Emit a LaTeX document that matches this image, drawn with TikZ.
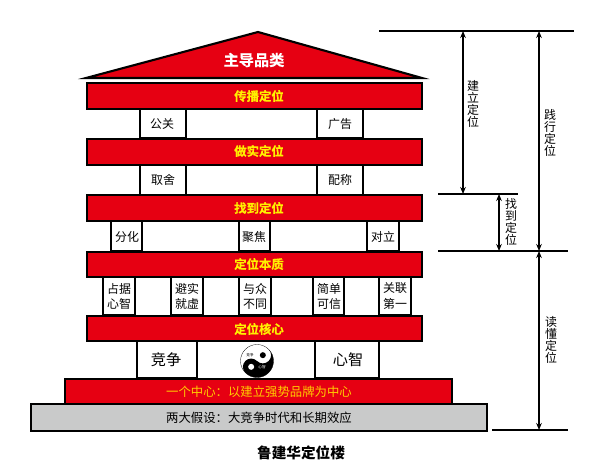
\documentclass[tikz,border=0pt]{standalone}
\usepackage{fontspec}
\setmainfont{Noto Sans CJK SC}
\newfontfamily\heavyfont[FakeBold=0.5]{Noto Sans CJK SC Bold}
\usetikzlibrary{arrows.meta}
\definecolor{barred}{RGB}{230,0,18}
\definecolor{bargold}{RGB}{255,240,0}
\definecolor{midgold}{RGB}{255,205,0}
\definecolor{basegrey}{RGB}{201,202,202}
\tikzset{
  redbar/.style={fill=barred,draw=black,line width=1.3pt},
  greybar/.style={fill=basegrey,draw=black,line width=1.3pt},
  pillar/.style={fill=white,draw=black,line width=1.1pt},
  roofline/.style={fill=barred,draw=black,line width=1.5pt,line join=miter},
  bartext/.style={font=\fontsize{8.8}{10}\selectfont\heavyfont,text=bargold,inner sep=0pt},
  pillartext/.style={font=\fontsize{8.5}{10.7}\selectfont,align=center,inner sep=0pt},
  sidetext/.style={font=\fontsize{8.5}{8.6}\selectfont,align=center,inner sep=0pt},
  levelline/.style={black,line width=0.75pt},
  spanarrow/.style={black,line width=0.75pt,{Stealth[length=5pt,width=4pt]}-{Stealth[length=5pt,width=4pt]}}
}
\begin{document}
\begin{tikzpicture}[x=0.025cm,y=-0.025cm]
\useasboundingbox (0,0) rectangle (609,472);
% roof
\draw[roofline] (258,32) -- (422,78) -- (86,78) -- cycle;
\node[font=\fontsize{10.8}{12}\selectfont\heavyfont,text=white,inner sep=0pt] (roof) at (254,60) {主导品类};
% floors
\draw[redbar] (87,83) rectangle (422,109);
\node[bartext] (spread) at (259,96) {传播定位};
\draw[pillar] (140,109) rectangle (186,138);
\node[pillartext] (pr) at (162,124) {公关};
\draw[pillar] (317,109) rectangle (363,138);
\node[pillartext] (ad) at (340,124) {广告};
\draw[redbar] (87,139) rectangle (422,165);
\node[bartext] (real) at (259,151) {做实定位};
\draw[pillar] (140,165) rectangle (186,195);
\node[pillartext] (trade) at (163,180) {取舍};
\draw[pillar] (317,165) rectangle (363,195);
\node[pillartext] (match) at (340,180) {配称};
\draw[redbar] (87,195) rectangle (422,221);
\node[bartext] (find) at (259,208) {找到定位};
\draw[pillar] (111,221) rectangle (142,251);
\node[pillartext] (split) at (127,237) {分化};
\draw[pillar] (239,221) rectangle (270,251);
\node[pillartext] (focus) at (254,237) {聚焦};
\draw[pillar] (367,221) rectangle (399,251);
\node[pillartext] (oppose) at (383,237) {对立};
\draw[redbar] (87,252) rectangle (422,277);
\node[bartext] (nature) at (259,264) {定位本质};
\draw[pillar] (103,277) rectangle (135,315);
\node[pillartext] (occupy) at (119,296) {占据\\心智};
\draw[pillar] (171,277) rectangle (203,315);
\node[pillartext] (avoid) at (187,296) {避实\\就虚};
\draw[pillar] (239,277) rectangle (271,315);
\node[pillartext] (differ) at (255,296) {与众\\不同};
\draw[pillar] (313,277) rectangle (344,315);
\node[pillartext] (simple) at (329,296) {简单\\可信};
\draw[pillar] (379,277) rectangle (411,315);
\node[pillartext] (first) at (395,296) {关联\\第一};
\draw[redbar] (87,316) rectangle (422,341);
\node[bartext] (core) at (259,329) {定位核心};
\draw[pillar] (137,341) rectangle (197,378);
\node[pillartext,font=\fontsize{10.8}{12}\selectfont] (compete) at (166,360) {竞争};
\draw[pillar] (315,341) rectangle (379,378);
\node[pillartext,font=\fontsize{10.8}{12}\selectfont] (mind) at (348,360) {心智};
% taiji
\begin{scope}[shift={(257,361)},rotate=-45,x=0.025cm,y=0.025cm]
\draw[fill=white,draw=black,very thin] (0,0) circle (16.5);
\fill[black] (0,16.5) arc (90:-90:16.5) arc (-90:-270:8.25) arc (-90:90:8.25) -- cycle;
\fill[black] (0,8.25) circle (3);
\fill[white] (0,-8.25) circle (3);
\end{scope}
\node[font=\fontsize{2.6}{3}\selectfont,inner sep=0pt] (taiwhite) at (250,355) {竞争};
\node[font=\fontsize{2.6}{3}\selectfont,text=white,inner sep=0pt] (taiblack) at (262,367) {心智};
% base
\draw[redbar] (65,379) rectangle (452,404);
\node[font=\fontsize{8.8}{10}\selectfont,text=midgold,inner sep=0pt] (center) at (259,392) {一个中心：以建立强势品牌为中心};
\draw[greybar] (31,404) rectangle (487,431);
\node[font=\fontsize{8.8}{10}\selectfont,inner sep=0pt] (assume) at (259,418) {两大假设：大竞争时代和长期效应};
\node[font=\fontsize{10.4}{12}\selectfont\bfseries,inner sep=0pt] (title) at (301,453) {鲁建华定位楼};
% levels
\coordinate (topl) at (379,31);
\coordinate (topr) at (574,31);
\coordinate (midl) at (438,194);
\coordinate (midr) at (518,194);
\coordinate (lowl) at (438,251);
\coordinate (lowr) at (568,251);
\coordinate (endl) at (492,430);
\coordinate (endr) at (568,430);
\draw[levelline] (topl) -- (topr);
\draw[levelline] (midl) -- (midr);
\draw[levelline] (lowl) -- (lowr);
\draw[levelline] (endl) -- (endr);
\coordinate (buildtop) at (463,31);
\coordinate (buildend) at (463,194);
\coordinate (findtop) at (499,194);
\coordinate (findend) at (499,251);
\coordinate (acttop) at (539,31);
\coordinate (actend) at (539,251);
\coordinate (readtop) at (539,251);
\coordinate (readend) at (539,430);
\draw[spanarrow] (buildtop) -- (buildend);
\draw[spanarrow] (findtop) -- (findend);
\draw[spanarrow] (acttop) -- (actend);
\draw[spanarrow] (readtop) -- (readend);
\node[sidetext] (build) at (473,104) {建\\立\\定\\位};
\node[sidetext] (findside) at (511,222) {找\\到\\定\\位};
\node[sidetext] (act) at (550,133) {践\\行\\定\\位};
\node[sidetext] (read) at (551,340) {读\\懂\\定\\位};
\end{tikzpicture}
\end{document}
